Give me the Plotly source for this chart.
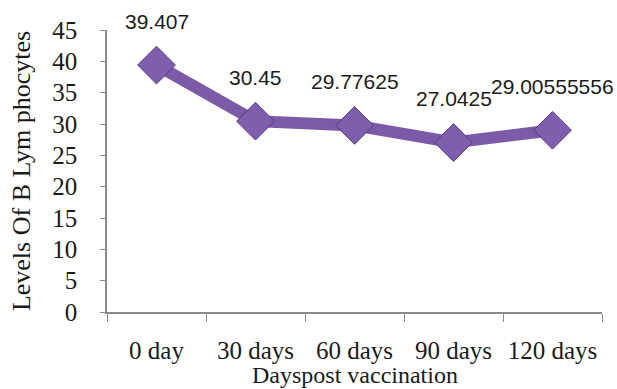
import plotly.graph_objects as go

# B lymphocyte levels at each sampling point after vaccination
categories = ["0 day", "30 days", "60 days", "90 days", "120 days"]
values = [39.407, 30.45, 29.77625, 27.0425, 29.00555556]
y_ticks = [0, 5, 10, 15, 20, 25, 30, 35, 40, 45]

purple = "#7B5BA8"
axis_gray = "#8A8A8A"
serif = "Liberation Serif"
sans = "Liberation Sans"

fig = go.Figure()
fig.add_trace(go.Scatter(
    x=categories,
    y=values,
    mode="lines+markers",
    line=dict(color=purple, width=12),
    marker=dict(symbol="diamond", size=29, color="#7D5FAE",
                line=dict(color="#55397E", width=1)),
    hoverinfo="skip",
))

# value labels above each point
for c, v in zip(categories, values):
    fig.add_annotation(x=c, y=v, text=str(v), showarrow=False,
                       yshift=44, font=dict(family=sans, size=21, color="#1a1a1a"))

# x-axis title placed just under the category labels
fig.add_annotation(x=0.5, xref="paper", y=-0.222, yref="paper",
                   xanchor="center", yanchor="middle", showarrow=False,
                   text="Dayspost vaccination",
                   font=dict(family=serif, size=24, color="#1a1a1a"))

fig.update_layout(
    width=617, height=389,
    margin=dict(l=107, r=15, t=30, b=77),
    paper_bgcolor="white", plot_bgcolor="white",
    showlegend=False,
)
fig.update_xaxes(
    type="category",
    range=[-0.5, 4.5],
    automargin=False,
    tickson="boundaries",
    ticks="outside", ticklen=8, tickcolor=axis_gray,
    showline=True, linecolor=axis_gray, linewidth=1.5,
    showgrid=False, zeroline=False,
    tickangle=0,
    tickfont=dict(family=serif, size=25, color="#1a1a1a"),
    ticklabelstandoff=15,
)
fig.update_yaxes(
    range=[0, 45],
    automargin=False,
    tickvals=y_ticks,
    ticks="outside", ticklen=5, tickcolor=axis_gray,
    showline=True, linecolor=axis_gray, linewidth=1.5,
    showgrid=False, zeroline=False,
    tickfont=dict(family=serif, size=25, color="#1a1a1a"),
    ticklabelstandoff=18,
    title=dict(text="Levels Of B Lym phocytes", standoff=14,
               font=dict(family=serif, size=26, color="#1a1a1a")),
)

fig.write_html("out.html")
